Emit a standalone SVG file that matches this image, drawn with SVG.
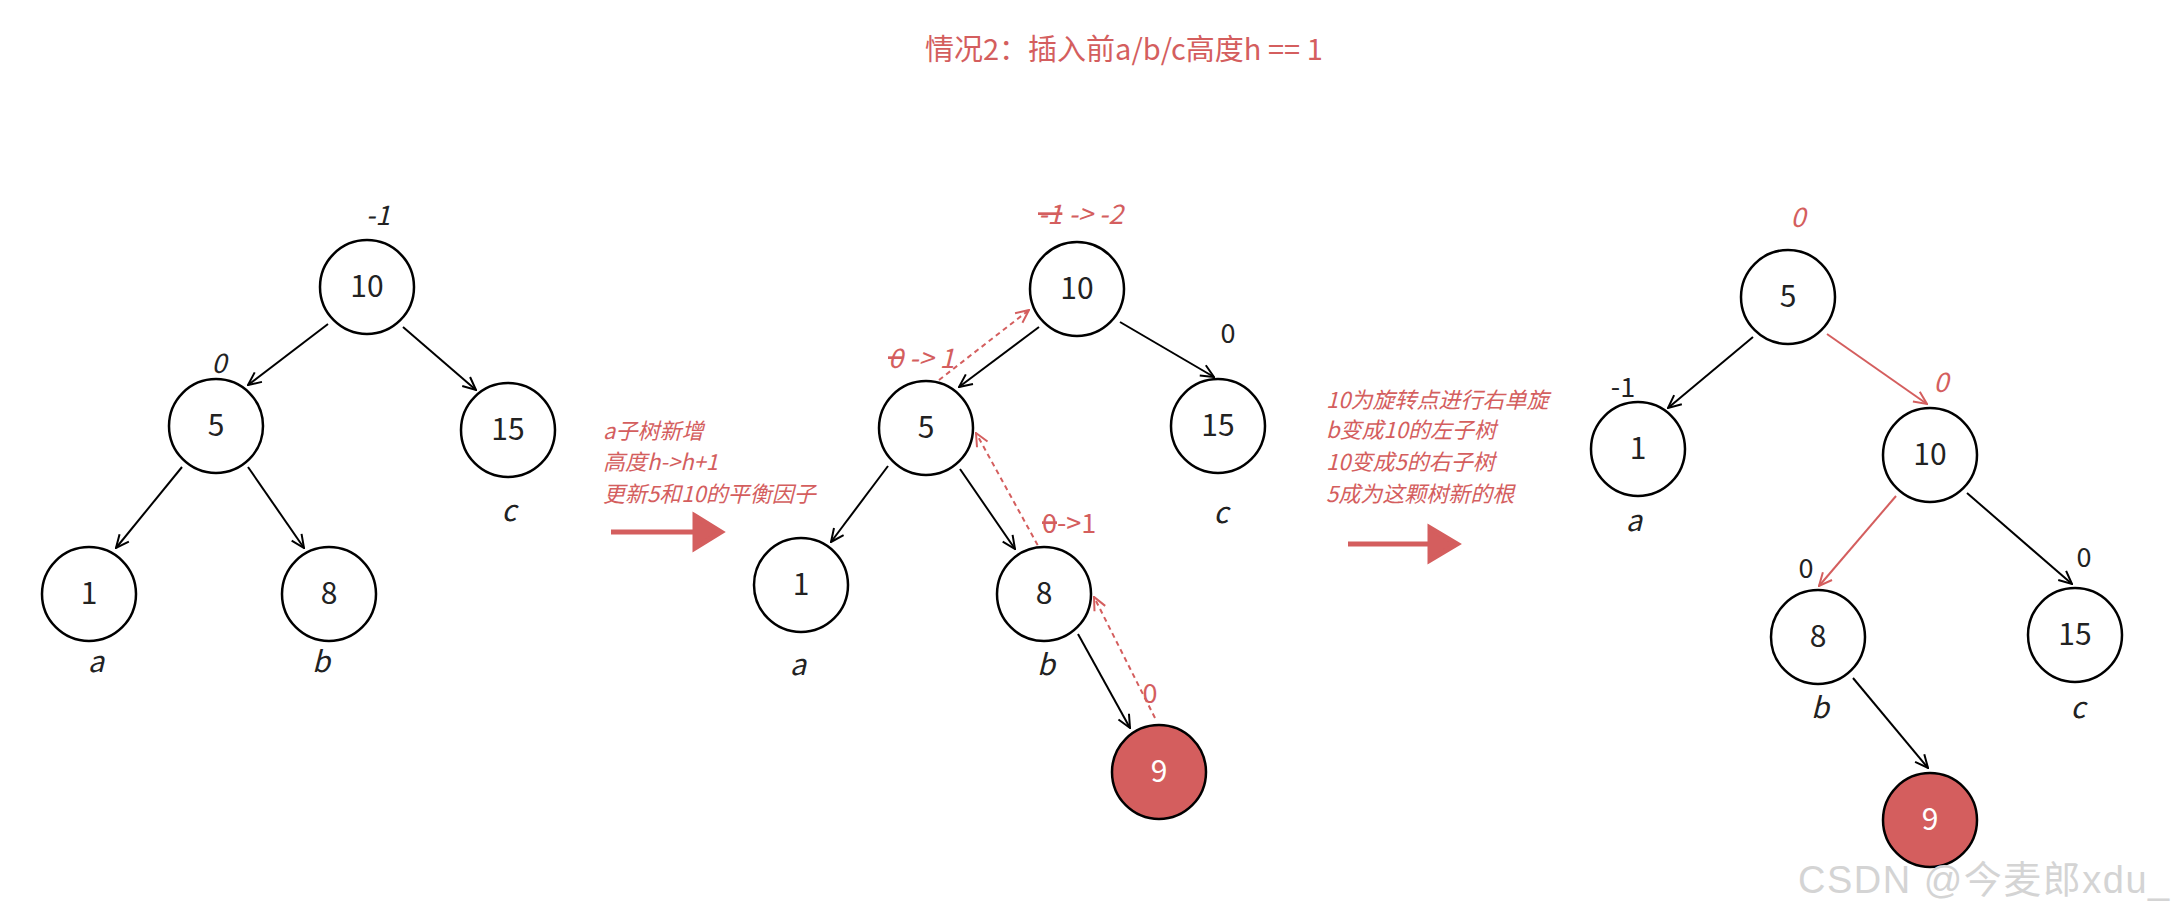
<svg xmlns="http://www.w3.org/2000/svg" width="2176" height="917" viewBox="0 0 2176 917">
<style>
.node circle{fill:#fff;stroke:#000;stroke-width:2.5}
.node.hot circle{fill:#D45E5E}
.node text{font-family:"Noto Sans CJK SC","Noto Sans",sans-serif;font-size:30px;fill:#222;text-anchor:middle}
.node.hot text{fill:#fff}
.edge{stroke:#000;stroke-width:2;fill:none;marker-end:url(#ah)}
.redge{stroke:#D45E5E;stroke-width:2;fill:none;marker-end:url(#ahr)}
.dash{stroke:#D45E5E;stroke-width:2;fill:none;stroke-dasharray:5 4;marker-end:url(#ahr)}
.lbl{font-family:"Noto Sans CJK SC","Noto Sans",sans-serif;font-size:29px;font-style:italic;fill:#222;text-anchor:middle}
.bf{font-family:"Noto Sans CJK SC","Noto Sans",sans-serif;font-size:27px;fill:#222;text-anchor:middle}
.bf.st{text-anchor:start}
.it{font-style:italic}
.red{fill:#D45E5E}
.note{font-family:"Noto Sans CJK SC","Noto Sans",sans-serif;font-size:22px;font-style:italic;fill:#D45E5E}
.title{font-family:"Noto Sans CJK SC","Noto Sans",sans-serif;font-size:29px;fill:#D45E5E}
.strike{text-decoration:line-through}
.big{fill:#D45E5E;stroke:#D45E5E;stroke-width:5}
</style>
<defs>
<marker id="ah" viewBox="0 0 16 16" refX="15" refY="8" markerWidth="16" markerHeight="16" markerUnits="userSpaceOnUse" orient="auto"><path d="M2,2 L15,8 L2,14" fill="none" stroke="#000" stroke-width="2"/></marker>
<marker id="ahr" viewBox="0 0 16 16" refX="15" refY="8" markerWidth="16" markerHeight="16" markerUnits="userSpaceOnUse" orient="auto"><path d="M2,2 L15,8 L2,14" fill="none" stroke="#D45E5E" stroke-width="2"/></marker>
</defs>
<rect width="2176" height="917" fill="#fff"/>

<text class="title" x="925" y="60">情况2：插入前a/b/c高度h == 1</text>

<g id="connectors">
<!-- tree 1 -->
<line class="edge" x1="328" y1="324" x2="248" y2="385"/>
<line class="edge" x1="403" y1="327" x2="476" y2="390"/>
<line class="edge" x1="182" y1="467" x2="116" y2="548"/>
<line class="edge" x1="248" y1="467" x2="304" y2="548"/>
<!-- tree 2 -->
<line class="edge" x1="1039" y1="327" x2="959" y2="387"/>
<line class="edge" x1="1120" y1="322" x2="1214" y2="377"/>
<line class="edge" x1="888" y1="466" x2="831" y2="542"/>
<line class="edge" x1="960" y1="469" x2="1015" y2="549"/>
<line class="edge" x1="1078" y1="634" x2="1130" y2="728"/>
<line class="dash" x1="939" y1="380" x2="1029" y2="310"/>
<line class="dash" x1="1042" y1="553" x2="976" y2="433"/>
<line class="dash" x1="1155" y1="718" x2="1094" y2="597"/>
<!-- tree 3 -->
<line class="edge" x1="1753" y1="337" x2="1668" y2="408"/>
<line class="redge" x1="1827" y1="334" x2="1927" y2="404"/>
<line class="redge" x1="1896" y1="496" x2="1819" y2="586"/>
<line class="edge" x1="1967" y1="493" x2="2072" y2="584"/>
<line class="edge" x1="1853" y1="678" x2="1928" y2="768"/>
<!-- step arrows -->
<line class="big" x1="611" y1="532" x2="698" y2="532"/>
<polygon class="big" stroke-width="0" points="695,516 721,532 695,548"/>
<line class="big" x1="1348" y1="544" x2="1432" y2="544"/>
<polygon class="big" stroke-width="0" points="1430,528 1457,544 1430,560"/>
</g>

<!-- tree 1 -->
<g id="t1-n10" class="node"><circle cx="367" cy="287" r="47"/><text x="367" y="297">10</text></g>
<g id="t1-n5" class="node"><circle cx="216" cy="426" r="47"/><text x="216" y="436">5</text></g>
<g id="t1-n15" class="node"><circle cx="508" cy="430" r="47"/><text x="508" y="440">15</text></g>
<g id="t1-n1" class="node"><circle cx="89" cy="594" r="47"/><text x="89" y="604">1</text></g>
<g id="t1-n8" class="node"><circle cx="329" cy="594" r="47"/><text x="329" y="604">8</text></g>
<text class="bf it" x="378" y="225">-1</text>
<text class="bf it" x="219" y="373">0</text>
<text class="lbl" x="509" y="521">c</text>
<text class="lbl" x="96" y="672">a</text>
<text class="lbl" x="321" y="672">b</text>

<g id="note1">
<text class="note" x="603" y="439">a子树新增</text>
<text class="note" x="603" y="470">高度h-&gt;h+1</text>
<text class="note" x="603" y="502">更新5和10的平衡因子</text>
</g>

<!-- tree 2 -->
<g id="t2-n10" class="node"><circle cx="1077" cy="289" r="47"/><text x="1077" y="299">10</text></g>
<g id="t2-n5" class="node"><circle cx="926" cy="428" r="47"/><text x="926" y="438">5</text></g>
<g id="t2-n15" class="node"><circle cx="1218" cy="426" r="47"/><text x="1218" y="436">15</text></g>
<g id="t2-n1" class="node"><circle cx="801" cy="585" r="47"/><text x="801" y="595">1</text></g>
<g id="t2-n8" class="node"><circle cx="1044" cy="594" r="47"/><text x="1044" y="604">8</text></g>
<g id="t2-n9" class="node hot"><circle cx="1159" cy="772" r="47"/><text x="1159" y="782">9</text></g>
<text class="bf st it red" x="1038" y="224"><tspan class="strike">-1</tspan> -&gt; -2</text>
<text class="bf st it red" x="888" y="368"><tspan class="strike">0</tspan> -&gt; 1</text>
<text class="bf st red" x="1042" y="533"><tspan class="strike">0</tspan>-&gt;1</text>
<text class="bf red" x="1150" y="703">0</text>
<text class="bf" x="1228" y="343">0</text>
<text class="lbl" x="1221" y="523">c</text>
<text class="lbl" x="798" y="675">a</text>
<text class="lbl" x="1046" y="675">b</text>

<g id="note2">
<text class="note" x="1326" y="408">10为旋转点进行右单旋</text>
<text class="note" x="1326" y="438">b变成10的左子树</text>
<text class="note" x="1326" y="470">10变成5的右子树</text>
<text class="note" x="1326" y="502">5成为这颗树新的根</text>
</g>

<!-- tree 3 -->
<g id="t3-n5" class="node"><circle cx="1788" cy="297" r="47"/><text x="1788" y="307">5</text></g>
<g id="t3-n1" class="node"><circle cx="1638" cy="449" r="47"/><text x="1638" y="459">1</text></g>
<g id="t3-n10" class="node"><circle cx="1930" cy="455" r="47"/><text x="1930" y="465">10</text></g>
<g id="t3-n8" class="node"><circle cx="1818" cy="637" r="47"/><text x="1818" y="647">8</text></g>
<g id="t3-n15" class="node"><circle cx="2075" cy="635" r="47"/><text x="2075" y="645">15</text></g>
<g id="t3-n9" class="node hot"><circle cx="1930" cy="820" r="47"/><text x="1930" y="830">9</text></g>
<text class="bf it red" x="1798" y="227">0</text>
<text class="bf" x="1623" y="397">-1</text>
<text class="lbl" x="1634" y="531">a</text>
<text class="bf it red" x="1941" y="392">0</text>
<text class="bf" x="1806" y="578">0</text>
<text class="bf" x="2084" y="567">0</text>
<text class="lbl" x="1820" y="718">b</text>
<text class="lbl" x="2078" y="718">c</text>

<text x="1798" y="893" font-family="'Liberation Sans','Noto Sans CJK SC',sans-serif" font-size="38" letter-spacing="1.5" fill="#d4d4d4">CSDN @今麦郎xdu_</text>
</svg>
